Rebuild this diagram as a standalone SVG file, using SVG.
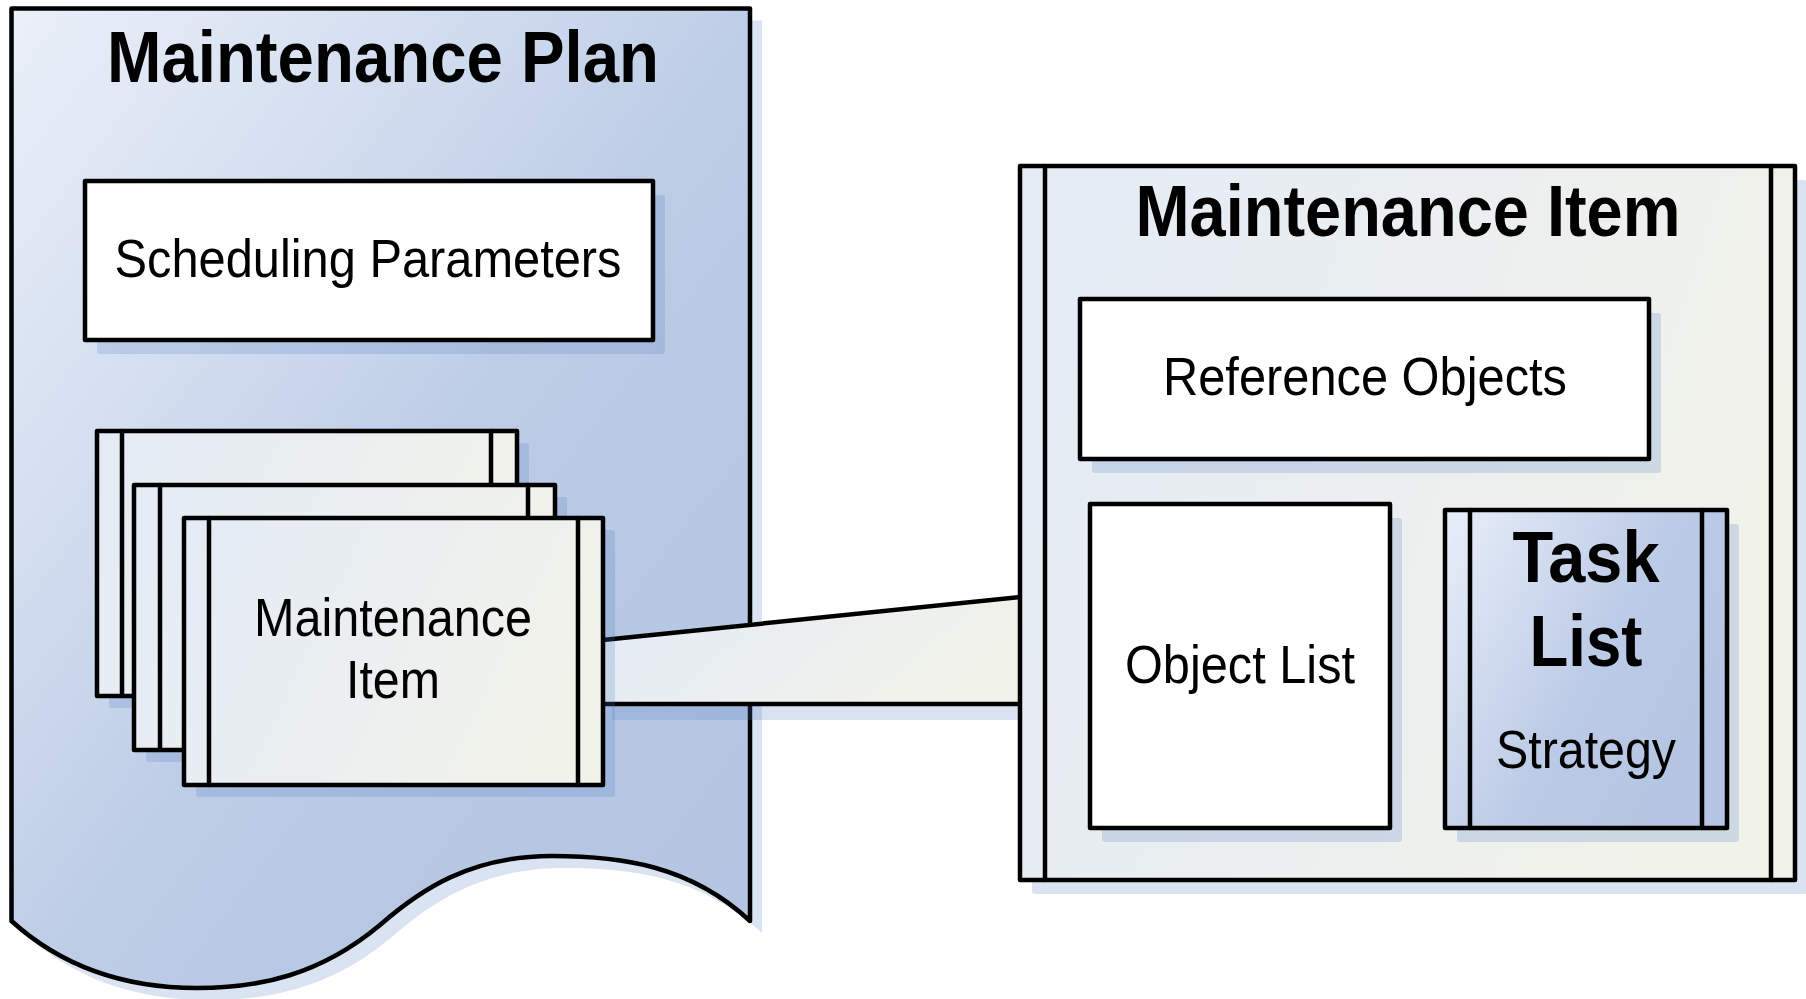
<svg xmlns="http://www.w3.org/2000/svg" width="1806" height="999" viewBox="0 0 1806 999">
  <defs>
    <linearGradient id="gPlan" x1="0" y1="0" x2="1" y2="1">
      <stop offset="0" stop-color="#ebf0f9"/>
      <stop offset="0.3" stop-color="#d2ddef"/>
      <stop offset="0.5" stop-color="#bfcee7"/>
      <stop offset="0.7" stop-color="#b7c8e3"/>
      <stop offset="1" stop-color="#b3c5e2"/>
    </linearGradient>
    <linearGradient id="gCard" x1="0" y1="0" x2="1" y2="0.3">
      <stop offset="0" stop-color="#e4ebf6"/>
      <stop offset="1" stop-color="#f1f2ea"/>
    </linearGradient>
    <linearGradient id="gTask" x1="0" y1="0" x2="1" y2="0.6">
      <stop offset="0" stop-color="#e9eff9"/>
      <stop offset="0.6" stop-color="#bccbe6"/>
      <stop offset="1" stop-color="#b3c5e2"/>
    </linearGradient>
    <style>
      .ln { stroke: #000; stroke-width: 4.5; stroke-linejoin: round; stroke-linecap: round; }
      .shd { fill: rgba(74,122,193,0.21); stroke: none; }
      .box { fill: #fff; }
      .card { fill: url(#gCard); }
      .txt { font-family: "Liberation Sans", Arial, sans-serif; font-size: 54px; fill: #000; text-anchor: middle; }
      .ttl { font-family: "Liberation Sans", Arial, sans-serif; font-size: 73px; font-weight: bold; fill: #000; text-anchor: middle; }
    </style>
  </defs>

  <rect width="1806" height="999" fill="#fff"/>

  <!-- Maintenance Plan document shape -->
  <g id="plan">
    <path class="shd" transform="translate(12,12)" d="M 11.5 921 V 8.5 H 750 V 921 C 690 865 620 856 552 856 C 470 856 420 890 380 925 C 320 975 260 988 197 988 C 120 988 60 965 11.5 921 Z"/>
    <path class="ln" fill="url(#gPlan)" d="M 11.5 921 V 8.5 H 750 V 921 C 690 865 620 856 552 856 C 470 856 420 890 380 925 C 320 975 260 988 197 988 C 120 988 60 965 11.5 921 Z"/>
    <text class="ttl" x="383" y="82" textLength="552" lengthAdjust="spacingAndGlyphs">Maintenance Plan</text>
  </g>

  <g id="scheduling-parameters">
    <rect class="shd" x="97" y="195" width="568" height="159" rx="3"/>
    <rect class="ln box" x="85" y="181" width="568" height="159"/>
    <text class="txt" x="368" y="277" textLength="507" lengthAdjust="spacingAndGlyphs">Scheduling Parameters</text>
  </g>

  <!-- link from the item stack to the detailed item -->
  <g id="connectors">
    <polygon class="shd" points="612,706 1018,706 1018,720 612,720"/>
    <polygon fill="url(#gCard)" points="603,640 1020,597 1020,704 603,704"/>
    <path class="ln" fill="none" d="M 603 640 L 1020 597 M 603 704 L 1020 704"/>
  </g>

  <g id="item-stack-back">
    <rect class="shd" x="109" y="443" width="420" height="265" rx="3"/>
    <rect class="ln card" x="97" y="431" width="420" height="265"/>
    <path class="ln" d="M 122 431 V 696 M 491 431 V 696"/>
  </g>

  <g id="item-stack-middle">
    <rect class="shd" x="146" y="497" width="421" height="265" rx="3"/>
    <rect class="ln card" x="134" y="485" width="421" height="265"/>
    <path class="ln" d="M 160 485 V 750 M 528 485 V 750"/>
  </g>

  <g id="item-stack-front">
    <rect class="shd" x="196" y="530" width="419" height="267" rx="3"/>
    <rect class="ln card" x="184" y="518" width="419" height="267"/>
    <path class="ln" d="M 209 518 V 785 M 578 518 V 785"/>
    <text class="txt" x="393" y="636" textLength="278" lengthAdjust="spacingAndGlyphs">Maintenance</text>
    <text class="txt" x="393" y="698" textLength="94" lengthAdjust="spacingAndGlyphs">Item</text>
  </g>

  <!-- Maintenance Item detail -->
  <g id="maintenance-item">
    <rect class="shd" x="1032" y="180" width="775" height="714" rx="3"/>
    <rect class="ln card" x="1020" y="166" width="775" height="714"/>
    <path class="ln" d="M 1045 166 V 880 M 1771 166 V 880"/>
    <text class="ttl" x="1408" y="236" textLength="545" lengthAdjust="spacingAndGlyphs">Maintenance Item</text>
  </g>

  <g id="reference-objects">
    <rect class="shd" x="1092" y="313" width="569" height="160" rx="3"/>
    <rect class="ln box" x="1080" y="299" width="569" height="160"/>
    <text class="txt" x="1365" y="395" textLength="404" lengthAdjust="spacingAndGlyphs">Reference Objects</text>
  </g>

  <g id="object-list">
    <rect class="shd" x="1102" y="518" width="300" height="324" rx="3"/>
    <rect class="ln box" x="1090" y="504" width="300" height="324"/>
    <text class="txt" x="1240" y="683" textLength="230" lengthAdjust="spacingAndGlyphs">Object List</text>
  </g>

  <g id="task-list">
    <rect class="shd" x="1457" y="524" width="282" height="318" rx="3"/>
    <rect class="ln" fill="url(#gTask)" x="1445" y="510" width="282" height="318"/>
    <path class="ln" d="M 1470 510 V 828 M 1702 510 V 828"/>
    <text class="ttl" x="1586" y="582" textLength="147" lengthAdjust="spacingAndGlyphs">Task</text>
    <text class="ttl" x="1586" y="666" textLength="113" lengthAdjust="spacingAndGlyphs">List</text>
    <text class="txt" x="1586" y="768" textLength="180" lengthAdjust="spacingAndGlyphs">Strategy</text>
  </g>
</svg>
